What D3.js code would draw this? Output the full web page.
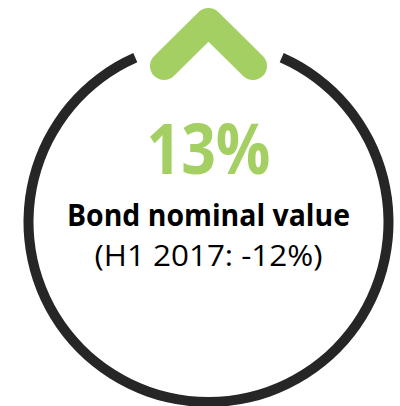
<!DOCTYPE html>
<html>
<head>
  <meta charset="UTF-8">
  <title>Bond nominal value</title>
  <script src="https://d3js.org/d3.v7.min.js"></script>
  <style>
    body { margin: 0; background: #fff; }
    svg { display: block; }
  </style>
</head>
<body>
    <svg></svg>

    <script>
        // chart data
        const changeLabels = ["13%"];
        const metricLabels = ["Bond nominal value"];
        const priorLabels = ["(H1 2017: -12%)"];
        const gapDegrees = [24, 336];   // opening of the ring at the top

        let width = 400, height = 406;
        let svg = d3.select("svg")
            .attr("width", width)
            .attr("height", height)
            .attr("viewBox", "0 0 " + width + " " + height);

        let cx = 208.5, cy = 222, r = 180;
        let green = "#a4cf63", dark = "#262626";

        let angle = d3.scaleLinear()
            .domain([0, 360])
            .range([0, 2 * Math.PI]);

        let g = svg.append("g")
            .attr("transform", "translate(" + cx + "," + cy + ")");

        // ring with a gap at the top
        g.append("path")
            .attr("d", d3.arc()
                .innerRadius(r - 5)
                .outerRadius(r + 5)
                .startAngle(angle(gapDegrees[0]))
                .endAngle(angle(gapDegrees[1]))())
            .attr("fill", dark);

        // up chevron sitting in the gap
        let chevron = d3.line();
        g.append("path")
            .attr("d", chevron([[-44.5, -156], [0, -200], [44.5, -156]]))
            .attr("fill", "none")
            .attr("stroke", green)
            .attr("stroke-width", 28)
            .attr("stroke-linecap", "round")
            .attr("stroke-linejoin", "round");

        let font = "'Open Sans', Lato, sans-serif";

        g.append("text")
            .data(changeLabels)
            .attr("x", 0)
            .attr("y", -48)
            .attr("text-anchor", "middle")
            .attr("font-family", font)
            .attr("font-weight", "bold")
            .attr("font-size", 70)
            .attr("fill", green)
            .attr("textLength", 124)
            .attr("lengthAdjust", "spacingAndGlyphs")
            .text(d => d);

        g.append("text")
            .data(metricLabels)
            .attr("x", 0)
            .attr("y", 4)
            .attr("text-anchor", "middle")
            .attr("font-family", font)
            .attr("font-weight", "bold")
            .attr("font-size", 30)
            .attr("fill", "#000")
            .attr("textLength", 283)
            .attr("lengthAdjust", "spacingAndGlyphs")
            .text(d => d);

        g.append("text")
            .data(priorLabels)
            .attr("x", 0)
            .attr("y", 44)
            .attr("text-anchor", "middle")
            .attr("font-family", font)
            .attr("font-size", 30)
            .attr("fill", "#000")
            .attr("textLength", 228)
            .attr("lengthAdjust", "spacingAndGlyphs")
            .text(d => d);
    </script>
</body>
</html>
